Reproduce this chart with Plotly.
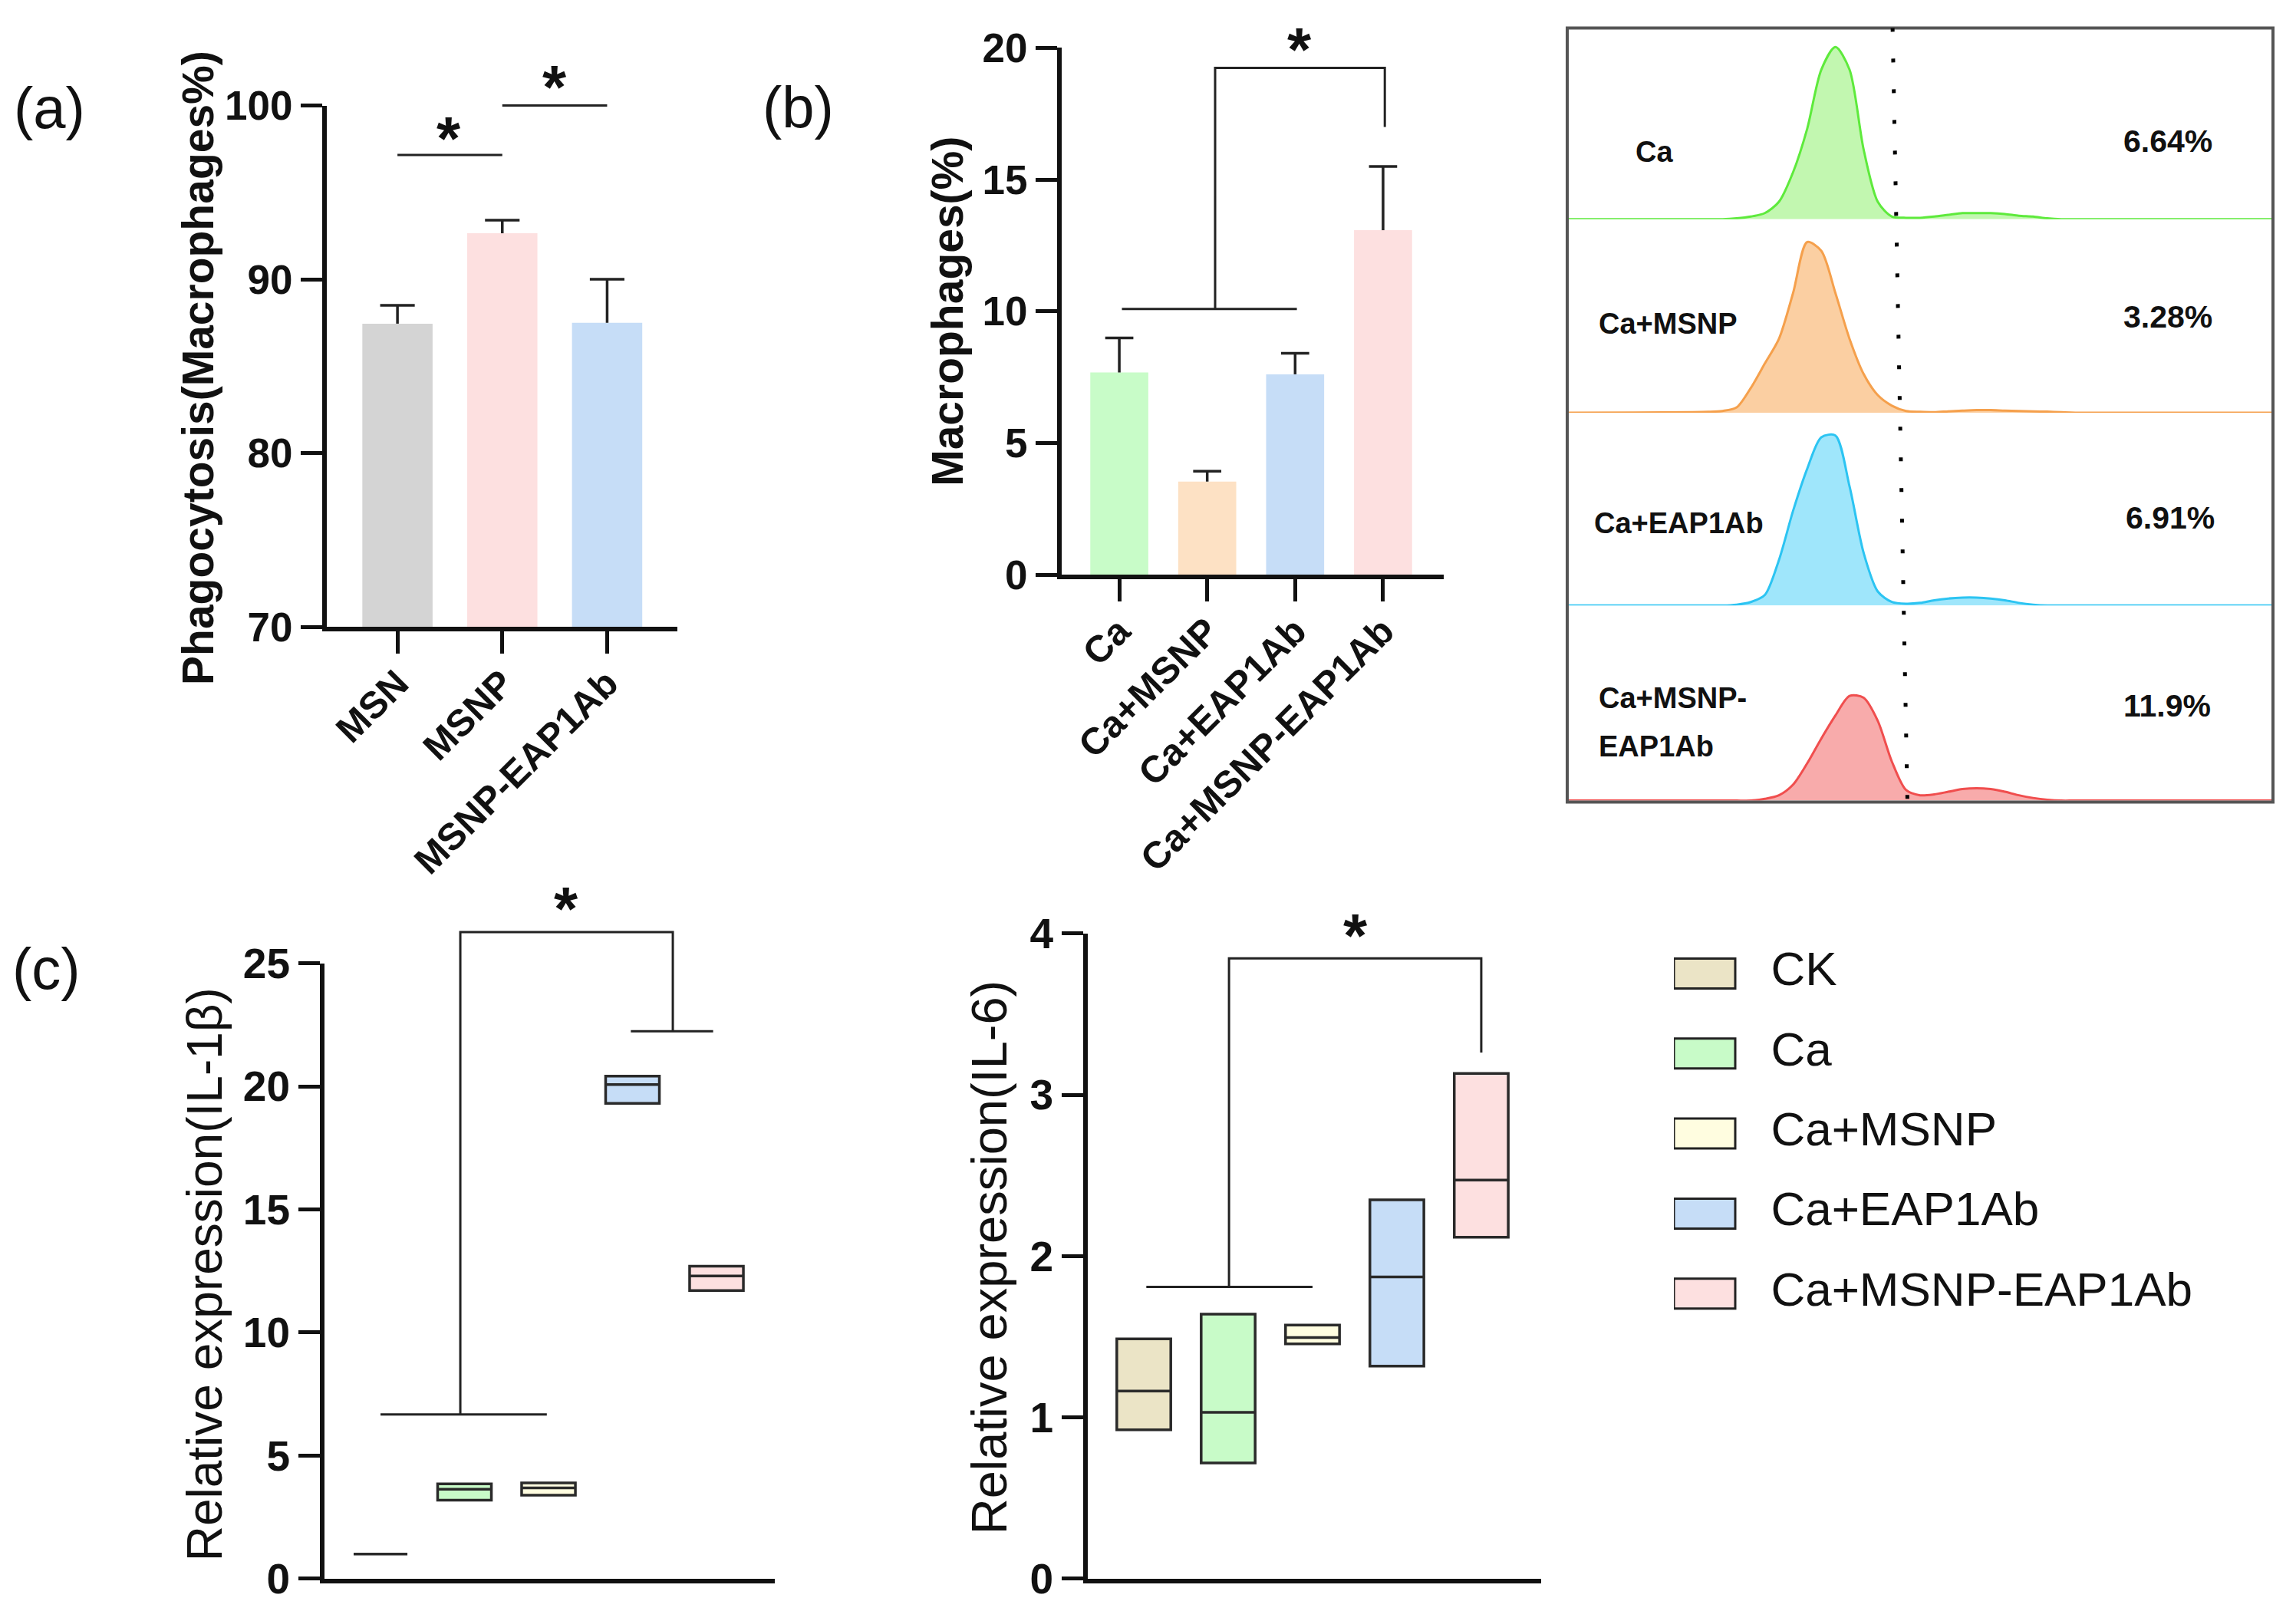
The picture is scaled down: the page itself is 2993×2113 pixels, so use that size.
import plotly.graph_objects as go

W, H = 2993, 2113
FONT = "Arial, Liberation Sans, sans-serif"
INK = "#111111"

# ---------------- data ----------------
# (a) phagocytosis
a_groups = ["MSN", "MSNP", "MSNP-EAP1Ab"]
a_mean = [87.45, 92.65, 87.5]
a_upper = [88.5, 93.4, 90.0]
a_colors = ["#d4d4d4", "#fde0e0", "#c6ddf7"]
a_sig_x = [0, 1, None, 1, 2]
a_sig_y = [97.15, 97.15, None, 100.0, 100.0]
a_star_x = [0.49, 1.5]
a_star_y = [98.9, 101.86]

# (b) macrophages
b_groups = ["Ca", "Ca+MSNP", "Ca+EAP1Ab", "Ca+MSNP-EAP1Ab"]
b_mean = [7.68, 3.54, 7.61, 13.08]
b_upper = [8.99, 3.93, 8.41, 15.5]
b_colors = ["#c8fcc8", "#fde1c4", "#c6ddf7", "#fde0e0"]
b_sig_x = [0.03, 2.02, None, 1.09, 1.09, 3.02, 3.02]
b_sig_y = [10.09, 10.09, None, 10.09, 19.24, 19.24, 17.0]

# flow cytometry histograms
flow_names = ["Ca", "Ca+MSNP", "Ca+EAP1Ab", "Ca+MSNP-EAP1Ab"]
flow_pct = ["6.64%", "3.28%", "6.91%", "11.9%"]
flow_x = [0, 20, 22, 24, 26, 28, 30, 32, 34, 36, 38, 40, 42, 44, 46, 48, 50,
          52, 54, 56, 58, 60, 62, 64, 66, 68, 70, 72, 100]
flow_green = [0, 0, 0, 0.5, 1.5, 3.5, 10, 27, 52, 86, 99, 86, 40, 10, 1.5, 0.8, 0.8,
              1.5, 2.5, 3.5, 3.5, 3.5, 3, 2, 1.5, 0.5, 0, 0, 0]
flow_orange = [0, 0.5, 1, 3, 14, 28, 42, 68, 97, 92, 68, 42, 22, 10, 4, 1, 0.5,
               0.3, 0.8, 1.2, 1.5, 1.5, 1.2, 1, 0.8, 0.6, 0.3, 0, 0]
flow_blue = [0, 0, 0, 0.5, 2, 6, 26, 54, 78, 96, 97, 68, 30, 8, 2, 1, 1.5,
             3, 4, 4.5, 4.5, 4, 3, 1.5, 0.5, 0, 0, 0, 0]
flow_red = [0, 0, 0, 0, 0, 1, 3, 9, 21, 35, 48, 59, 58, 45, 22, 6, 3,
            3.5, 5, 6.5, 7, 6.5, 5, 3, 1.5, 0.5, 0, 0, 0]
flow_lines = ["#5eea3c", "#f5a04c", "#2cc4f2", "#f04e4e"]
flow_fills = ["#c2f7b0", "#fbcfa2", "#9fe6fb", "#f8abab"]
gate_x = [46.1, 48.2]

# (c) relative expression
c_groups = ["CK", "Ca", "Ca+MSNP", "Ca+EAP1Ab", "Ca+MSNP-EAP1Ab"]
c_colors = ["#ebe4c6", "#c8fbc8", "#fffde0", "#c6ddf7", "#fde0e0"]
il1b_min = [1.0, 3.19, 3.39, 19.31, 11.71]
il1b_mean = [1.0, 3.63, 3.69, 20.08, 12.30]
il1b_max = [1.0, 3.85, 3.89, 20.42, 12.70]
il6_min = [0.923, 0.717, 1.455, 1.317, 2.117]
il6_mean = [1.163, 1.031, 1.495, 1.871, 2.471]
il6_max = [1.486, 1.640, 1.572, 2.348, 3.132]
c1_sig_x = [0.0, 1.98, None, 0.95, 0.95, 3.48, 3.48, None, 2.98, 3.96]
c1_sig_y = [6.67, 6.67, None, 6.67, 26.27, 26.27, 22.24, None, 22.24, 22.24]
c2_sig_x = [0.03, 2.0, None, 1.01, 1.01, 4.0, 4.0]
c2_sig_y = [1.809, 1.809, None, 1.809, 3.846, 3.846, 3.262]


# ---------------- helpers ----------------
def dx(px):
    return px / W


def dy(py):
    # vertical pixel position (from top) -> paper fraction, with render correction
    return 1 - ((py - 33.6) / 0.97) / H


def err_xy(means, uppers, half):
    xs, ys = [], []
    for i, (m, u) in enumerate(zip(means, uppers)):
        xs += [i, i, None, i - half, i + half, None]
        ys += [m, u, None, u, u, None]
    return xs, ys


fig = go.Figure()

# ---- (a) bars
fig.add_trace(go.Bar(x=list(range(len(a_groups))), y=a_mean, width=0.67,
                     marker=dict(color=a_colors, line=dict(width=0)),
                     xaxis="x", yaxis="y", showlegend=False))
ex, ey = err_xy(a_mean, a_upper, 0.165)
fig.add_trace(go.Scatter(x=ex, y=ey, mode="lines", line=dict(color="#222", width=3.5),
                         xaxis="x", yaxis="y", showlegend=False))
fig.add_trace(go.Scatter(x=a_sig_x, y=a_sig_y, mode="lines", line=dict(color="#222", width=3),
                         xaxis="x10", yaxis="y10", showlegend=False))

# ---- (b) bars
fig.add_trace(go.Bar(x=list(range(len(b_groups))), y=b_mean, width=0.66,
                     marker=dict(color=b_colors, line=dict(width=0)),
                     xaxis="x2", yaxis="y2", showlegend=False))
ex, ey = err_xy(b_mean, b_upper, 0.16)
fig.add_trace(go.Scatter(x=ex, y=ey, mode="lines", line=dict(color="#222", width=3.5),
                         xaxis="x2", yaxis="y2", showlegend=False))
fig.add_trace(go.Scatter(x=b_sig_x, y=b_sig_y, mode="lines", line=dict(color="#222", width=3),
                         xaxis="x2", yaxis="y2", showlegend=False))

# ---- flow histograms
for k, vals in enumerate([flow_green, flow_orange, flow_blue, flow_red]):
    fig.add_trace(go.Scatter(x=flow_x, y=vals, mode="lines",
                             line=dict(color=flow_lines[k], width=3, shape="spline", smoothing=0.8),
                             fill="tozeroy", fillcolor=flow_fills[k],
                             xaxis=f"x{5 + k}", yaxis=f"y{5 + k}",
                             showlegend=False, cliponaxis=False))

# ---- (c) floating boxes
for i in range(len(c_groups)):
    fig.add_trace(go.Box(x=[i], q1=[il1b_min[i]], median=[il1b_mean[i]], q3=[il1b_max[i]],
                         lowerfence=[il1b_min[i]], upperfence=[il1b_max[i]],
                         width=0.64, whiskerwidth=0, fillcolor=c_colors[i],
                         line=dict(color="#2a2a2a", width=3.5), boxpoints=False,
                         xaxis="x3", yaxis="y3", showlegend=False))
    fig.add_trace(go.Box(x=[i], q1=[il6_min[i]], median=[il6_mean[i]], q3=[il6_max[i]],
                         lowerfence=[il6_min[i]], upperfence=[il6_max[i]],
                         width=0.64, whiskerwidth=0, fillcolor=c_colors[i],
                         line=dict(color="#2a2a2a", width=3.5), boxpoints=False,
                         xaxis="x4", yaxis="y4", showlegend=False))
fig.add_trace(go.Scatter(x=c1_sig_x, y=c1_sig_y, mode="lines", line=dict(color="#222", width=3),
                         xaxis="x12", yaxis="y12", showlegend=False))
fig.add_trace(go.Scatter(x=c2_sig_x, y=c2_sig_y, mode="lines", line=dict(color="#222", width=3),
                         xaxis="x4", yaxis="y4", showlegend=False))

# ---- custom legend
fig.add_trace(go.Bar(x=[1] * len(c_groups), y=list(range(len(c_groups))), base=0,
                     orientation="h", width=0.374,
                     marker=dict(color=c_colors, line=dict(color="#222", width=3)),
                     xaxis="x11", yaxis="y11", showlegend=False))
fig.add_trace(go.Scatter(x=[1.58] * len(c_groups), y=list(range(len(c_groups))), text=c_groups,
                         mode="text", textposition="middle right",
                         textfont=dict(family=FONT, size=62, color=INK),
                         xaxis="x11", yaxis="y11", showlegend=False))

# ---------------- axes ----------------
def std_x(dom, rng, tickvals=None, ticktext=None, anchor="y"):
    d = dict(domain=dom, range=rng, showline=True, linewidth=6, linecolor=INK,
             showgrid=False, zeroline=False, anchor=anchor)
    if tickvals is not None:
        d.update(tickvals=tickvals, ticktext=ticktext, ticks="outside", ticklen=29,
                 tickwidth=5, tickcolor=INK, tickangle=-45, ticklabelstandoff=-10,
                 tickfont=dict(family=FONT, size=49, weight="bold", color=INK))
    else:
        d.update(ticks="", showticklabels=False)
    return d


def std_y(dom, rng, tickvals, size, anchor):
    return dict(domain=dom, range=rng, tickvals=tickvals, showline=True, linewidth=6,
                linecolor=INK, showgrid=False, zeroline=False, ticks="outside",
                ticklen=28, tickwidth=5, tickcolor=INK, anchor=anchor,
                tickfont=dict(family=FONT, size=size, weight="bold", color=INK))


hidden = dict(visible=False, showgrid=False, zeroline=False)

layout = dict(
    width=W, height=H, margin=dict(l=0, r=0, t=0, b=0),
    paper_bgcolor="white", plot_bgcolor="rgba(0,0,0,0)",
    showlegend=False, boxmode="overlay", barmode="overlay",
    xaxis=std_x([dx(426), dx(883)], [-0.674, 2.67], [0, 1, 2], a_groups, "y"),
    yaxis=std_y([dy(819), dy(140)], [70, 100], [70, 80, 90, 100], 53, "x"),
    xaxis2=std_x([dx(1384), dx(1882)], [-0.655, 3.69], [0, 1, 2, 3], b_groups, "y2"),
    yaxis2=std_y([dy(751), dy(65)], [0, 20], [0, 5, 10, 15, 20], 53, "x2"),
    xaxis3=std_x([dx(423), dx(1010)], [-0.667, 4.694], anchor="y3"),
    yaxis3=std_y([dy(2058), dy(1257)], [0, 25], [0, 5, 10, 15, 20, 25], 55, "x3"),
    xaxis4=std_x([dx(1418), dx(2009)], [-0.664, 4.71], anchor="y4"),
    yaxis4=std_y([dy(2058), dy(1218)], [0, 4], [0, 1, 2, 3, 4], 55, "x4"),
    xaxis10=dict(hidden, domain=[dx(426), dx(883)], range=[-0.674, 2.67], anchor="y10"),
    yaxis10=dict(hidden, domain=[dy(819), dy(90)], range=[70, 70 + (819 - 90) / 679 * 30], anchor="x10"),
    xaxis12=dict(hidden, domain=[dx(423), dx(1010)], range=[-0.667, 4.694], anchor="y12"),
    yaxis12=dict(hidden, domain=[dy(2058), dy(1150)], range=[0, (2058 - 1150) / 801 * 25], anchor="x12"),
    xaxis9=dict(hidden, domain=[dx(2043), dx(2963)], range=[0, 100], anchor="y9"),
    yaxis9=dict(hidden, domain=[dy(1045), dy(39)], range=[0, 1], anchor="x9"),
    xaxis11=dict(hidden, domain=[dx(2182), dx(2902)], range=[0, 9], anchor="y11"),
    yaxis11=dict(hidden, domain=[dy(1739), dy(1218)], range=[4.5, -0.5], anchor="x11"),
)
row_tops = [39, 288, 540, 791]
row_bots = [288, 540, 791, 1045]
for k in range(4):
    layout[f"xaxis{5 + k}"] = dict(hidden, domain=[dx(2043), dx(2963)], range=[0, 100], anchor=f"y{5 + k}")
    layout[f"yaxis{5 + k}"] = dict(hidden, domain=[dy(row_bots[k]), dy(row_tops[k])], range=[0, 110],
                                   anchor=f"x{5 + k}")

fig.update_layout(**layout)

# ---------------- shapes ----------------
fig.add_shape(type="rect", xref="paper", yref="paper", x0=dx(2043), x1=dx(2963),
              y0=dy(1047), y1=dy(39), line=dict(color="#555", width=4), layer="above")
fig.add_shape(type="line", xref="x9", yref="y9", x0=gate_x[0], y0=1, x1=gate_x[1], y1=0,
              line=dict(color="black", width=5, dash="5px,35px"), layer="above")

# ---------------- annotations ----------------
ann = []


def text(x, y, s, size, bold=False, xanchor="center", angle=0, xref="paper", yref="paper", yshift=0):
    ann.append(dict(x=x, y=y, xref=xref, yref=yref, text=s, showarrow=False,
                    xanchor=xanchor, yanchor="middle", textangle=angle, yshift=yshift,
                    font=dict(family=FONT, size=size, color=INK, weight="bold" if bold else "normal")))


text(dx(64), dy(143), "(a)", 76)
text(dx(1040), dy(142), "(b)", 76)
text(dx(60), dy(1264), "(c)", 76)

text(dx(258), dy(482), "Phagocytosis(Macrophages%)", 57, bold=True, angle=-90)
text(dx(1235), dy(408), "Macrophages(%)", 57, bold=True, angle=-90)
text(dx(267), dy(1662), "Relative expression(IL-1β)", 64, angle=-90)
text(dx(1289), dy(1640), "Relative expression(IL-6)", 65, angle=-90)

for sx, sy in zip(a_star_x, a_star_y):
    text(sx, sy, "*", 80, bold=True, xref="x10", yref="y10", yshift=-18)
# stars above brackets (positions in page pixels)
for spx, spy in [(1694, 49), (738, 1168), (1767, 1203)]:
    text(dx(spx), dy(spy), "*", 80, bold=True, yshift=-18)

label_pos = [(2130, 200), (2082, 424), (2076, 684)]
for (lx, ly), name in zip(label_pos, flow_names[:3]):
    text(dx(lx), dy(ly), name, 38, bold=True, xanchor="left")
text(dx(2082), dy(912), "Ca+MSNP-", 38, bold=True, xanchor="left")
text(dx(2082), dy(975), "EAP1Ab", 38, bold=True, xanchor="left")
pct_pos = [(2766, 186), (2766, 415), (2769, 677), (2766, 922)]
for (px_, py_), s in zip(pct_pos, flow_pct):
    text(dx(px_), dy(py_), s, 41, bold=True, xanchor="left")

fig.update_layout(annotations=ann)

fig.write_html("out.html", config={"displayModeBar": False},
               post_script="document.body.style.margin='0';")
